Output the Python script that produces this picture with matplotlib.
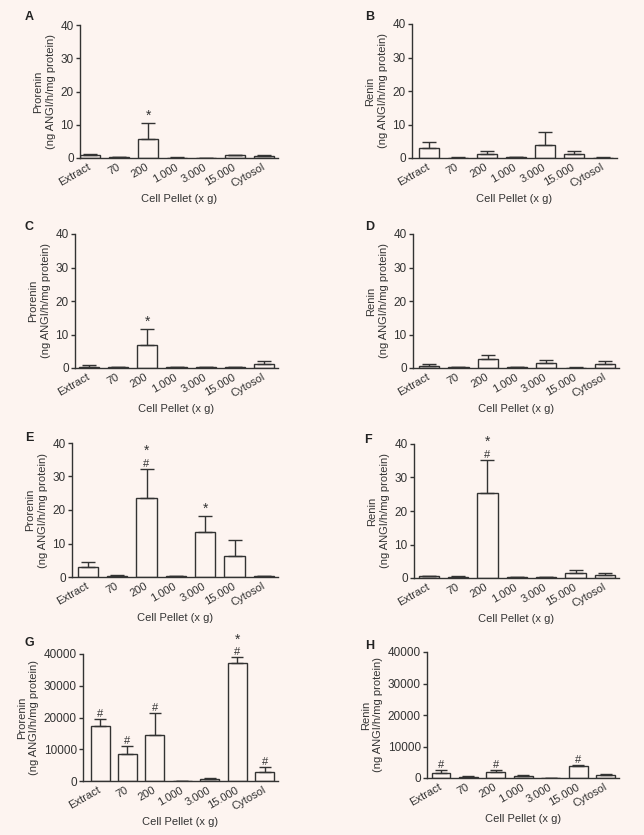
import matplotlib
matplotlib.use("Agg")
import matplotlib.pyplot as plt
import numpy as np

plt.rcParams['font.family'] = ['Liberation Sans', 'DejaVu Sans']

BG = '#fdf4f0'
INK = '#333333'
W, H = 644, 835

fractions = ['Extract', '70', '200', '1.000', '3.000', '15.000', 'Cytosol']

# panel A - prorenin
prorenin_a = [0.8, 0.2, 5.6, 0.15, 0.1, 0.8, 0.6]
prorenin_a_err = [0.3, 0.1, 5.0, 0.05, 0.05, 0.2, 0.4]
marks_a = ['', '', '*', '', '', '', '']

# panel B - renin
renin_b = [3.1, 0.1, 1.1, 0.3, 4.0, 1.2, 0.1]
renin_b_err = [1.7, 0.05, 1.1, 0.1, 3.8, 1.0, 0.05]
marks_b = [''] * 7

# panel C - prorenin
prorenin_c = [0.4, 0.3, 6.8, 0.2, 0.2, 0.2, 1.2]
prorenin_c_err = [0.4, 0.1, 4.8, 0.05, 0.05, 0.05, 0.8]
marks_c = ['', '', '*', '', '', '', '']

# panel D - renin
renin_d = [0.7, 0.3, 2.6, 0.2, 1.4, 0.1, 1.2]
renin_d_err = [0.4, 0.1, 1.2, 0.1, 0.9, 0.05, 0.9]
marks_d = [''] * 7

# panel E - prorenin
prorenin_e = [2.9, 0.3, 23.6, 0.2, 13.4, 6.3, 0.2]
prorenin_e_err = [1.7, 0.2, 8.6, 0.05, 4.9, 4.6, 0.05]
marks_e = ['', '', '*#', '', '*', '', '']

# panel F - renin
renin_f = [0.5, 0.4, 25.3, 0.2, 0.2, 1.6, 0.9]
renin_f_err = [0.1, 0.1, 10.0, 0.05, 0.1, 0.8, 0.5]
marks_f = ['', '', '*#', '', '', '', '']

# panel G - prorenin
prorenin_g = [17300, 8400, 14400, 100, 600, 37100, 2700]
prorenin_g_err = [2200, 2700, 7100, 50, 400, 1800, 1600]
marks_g = ['#', '#', '#', '', '', '*#', '#']

# panel H - renin
renin_h = [1700, 400, 2000, 600, 100, 3900, 900]
renin_h_err = [700, 150, 500, 200, 50, 300, 500]
marks_h = ['#', '', '#', '', '', '#', '']

yticks_small = [0, 10, 20, 30, 40]
yticks_large = [0, 10000, 20000, 30000, 40000]

prorenin_label = 'Prorenin\n(ng ANGI/h/mg protein)'
renin_label = 'Renin\n(ng ANGI/h/mg protein)'

FS = 8


def draw_panel(fig, box, xleft, values, errors, marks, ylabel, yticks, capsize):
    # box in pixels: left, top, right, bottom
    x0, y0, x1, y1 = box
    ax = fig.add_axes([x0 / W, 1 - y1 / H, (x1 - x0) / W, (y1 - y0) / H])
    ax.set_facecolor('none')
    x = np.arange(len(values))
    ax.bar(x, values, width=0.69, color='none', edgecolor=INK, linewidth=1.0, zorder=3)
    ax.errorbar(x, values, yerr=[np.zeros(len(errors)), errors], fmt='none',
                ecolor=INK, elinewidth=1.0, capsize=capsize, capthick=1.0, zorder=2)

    # significance marks above the error bar
    for xi, v, e, m in zip(x, values, errors, marks):
        top = v + e
        if '#' in m:
            ax.annotate('#', (xi, top), xytext=(0, 0), textcoords='offset points',
                        ha='center', va='bottom', fontsize=FS, color=INK)
        if '*' in m:
            off = 8 if '#' in m else 0
            ax.annotate('*', (xi, top), xytext=(0, off), textcoords='offset points',
                        ha='center', va='bottom', fontsize=10, color=INK)

    ax.set_xlim(xleft, 6.48)
    ax.set_ylim(yticks[0], yticks[-1])
    ax.set_yticks(yticks)
    ax.set_xticks(x)
    ax.set_xticklabels(fractions, rotation=30, ha='right', va='center',
                       rotation_mode='anchor')
    ax.tick_params(axis='x', length=0, pad=6, labelsize=FS, colors=INK)
    ax.tick_params(axis='y', length=3, width=1.0, pad=1.5, labelsize=8.5,
                   colors=INK, direction='out')
    for side in ['top', 'right']:
        ax.spines[side].set_visible(False)
    for side in ['left', 'bottom']:
        ax.spines[side].set_color(INK)
        ax.spines[side].set_linewidth(1.0)
    ax.set_ylabel(ylabel, fontsize=FS, color=INK, labelpad=3, linespacing=1.35)
    ax.set_xlabel('Cell Pellet (x g)', fontsize=FS, color=INK, labelpad=3)
    return ax


fig = plt.figure(figsize=(W / 100, H / 100), dpi=100, facecolor=BG)

panels = [
    ('A', (80, 25, 278, 158), -0.35, prorenin_a, prorenin_a_err, marks_a, prorenin_label, yticks_small, 5, (25, 17)),
    ('B', (412, 24, 617, 158), -0.57, renin_b, renin_b_err, marks_b, renin_label, yticks_small, 5, (365, 17)),
    ('C', (75, 234, 278, 368), -0.48, prorenin_c, prorenin_c_err, marks_c, prorenin_label, yticks_small, 5, (25, 227)),
    ('D', (413, 234, 619, 368), -0.55, renin_d, renin_d_err, marks_d, renin_label, yticks_small, 5, (365, 227)),
    ('E', (72, 443, 278, 577), -0.54, prorenin_e, prorenin_e_err, marks_e, prorenin_label, yticks_small, 5, (25, 438)),
    ('F', (414, 444, 619, 578), -0.50, renin_f, renin_f_err, marks_f, renin_label, yticks_small, 5, (364, 440)),
    ('G', (83, 654, 278, 781), -0.62, prorenin_g, prorenin_g_err, marks_g, prorenin_label, yticks_large, 4, (25, 643)),
    ('H', (427, 652, 619, 778), -0.51, renin_h, renin_h_err, marks_h, renin_label, yticks_large, 4, (365, 646)),
]

for letter, box, xleft, vals, errs, marks, ylab, yt, cap, lpos in panels:
    draw_panel(fig, box, xleft, vals, errs, marks, ylab, yt, cap)
    fig.text(lpos[0] / W, 1 - lpos[1] / H, letter, fontsize=9, fontweight='bold',
             color='#222222', ha='left', va='center')

fig.savefig('out.png', dpi=100, facecolor=BG)
